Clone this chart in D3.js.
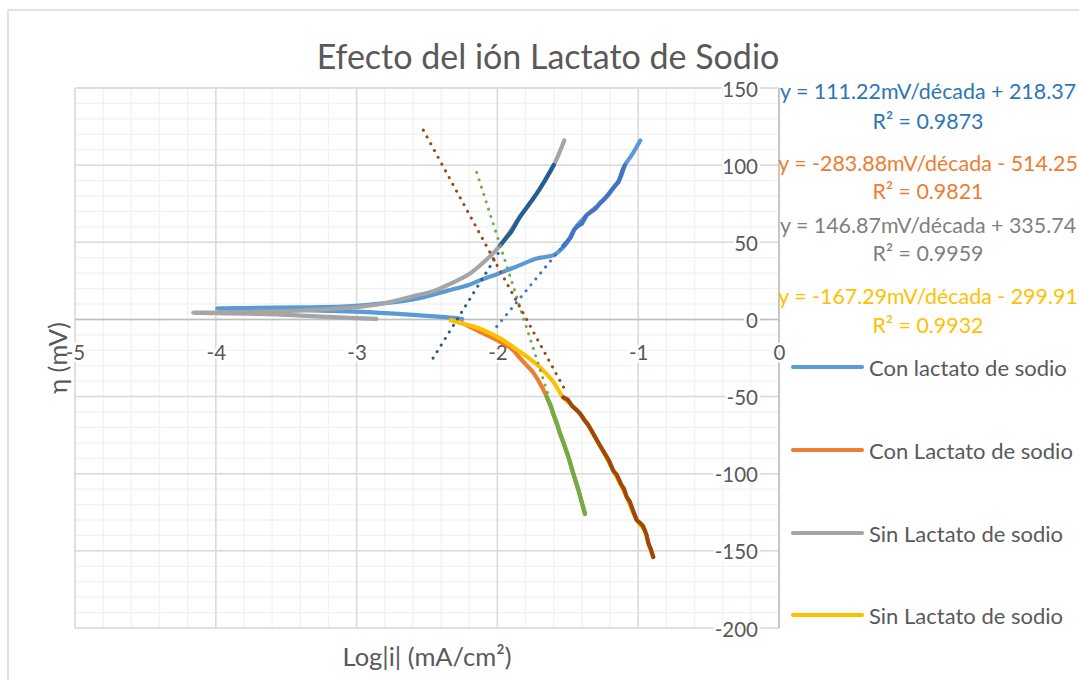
<!DOCTYPE html>
<html>
<head>
<meta charset="utf-8">
<script src="https://cdn.jsdelivr.net/npm/d3@7"></script>
<style>
  html, body { margin: 0; padding: 0; background: #fff; }
  svg text { font-family: Lato, "Open Sans", sans-serif; fill: #595959; }
</style>
</head>
<body>
<svg id="chart" width="1079" height="680"></svg>
<script>
// Axis ticks
const xTicks = [-5, -4, -3, -2, -1, 0];
const yTicks = [150, 100, 50, 0, -50, -100, -150, -200];

// Polarization curves: [log|i| (mA/cm²), η (mV)]
const conLactato = [
  [-2.25, 0.3], [-2.40, 1.6], [-2.60, 3.0], [-2.83, 4.3], [-3.00, 5.0], [-3.40, 6.0],
  [-3.80, 6.7], [-3.99, 7.1], [-3.80, 7.4], [-3.40, 7.8], [-3.10, 8.3], [-2.90, 9.6],
  [-2.60, 13.0], [-2.36, 18.5], [-2.20, 22.5], [-2.12, 25.5], [-1.99, 29.8], [-1.84, 35.2],
  [-1.72, 39.5], [-1.65, 40.6], [-1.60, 41.7], [-1.54, 46.0], [-1.508, 49.3], [-1.449, 59.0],
  [-1.366, 67.6], [-1.271, 75.2], [-1.188, 83.8], [-1.129, 91.4], [-1.094, 100.0],
  [-1.046, 106.5], [-0.985, 116.0]
];
const conLactatoCat = [
  [-2.33, -0.5], [-2.25, -2.5], [-2.124, -8.0], [-1.98, -14.5], [-1.90, -19.0],
  [-1.84, -25.0], [-1.80, -29.0], [-1.745, -34.5], [-1.70, -41.0], [-1.65, -50.0],
  [-1.60, -62.0], [-1.555, -74.0], [-1.50, -88.0], [-1.461, -100.0], [-1.42, -112.0],
  [-1.378, -126.0]
];
const sinLactato = [
  [-2.86, 0.4], [-3.20, 1.6], [-3.45, 2.8], [-3.80, 3.7], [-4.16, 4.3], [-3.90, 4.6],
  [-3.69, 5.0], [-3.21, 6.6], [-2.86, 9.5], [-2.60, 15.0], [-2.45, 18.5], [-2.36, 22.0],
  [-2.20, 29.5], [-2.08, 38.5], [-1.98, 48.0], [-1.84, 66.5], [-1.72, 81.7], [-1.60, 100.0],
  [-1.525, 116.0]
];
const sinLactatoCat = [
  [-2.33, -0.5], [-2.25, -2.5], [-2.124, -6.0], [-1.98, -12.3], [-1.84, -21.0],
  [-1.75, -27.0], [-1.697, -31.0], [-1.65, -35.5], [-1.603, -40.4], [-1.532, -50.5],
  [-1.413, -61.0], [-1.295, -78.0], [-1.177, -98.0], [-1.082, -115.0], [-1.011, -130.0],
  [-0.952, -137.0], [-0.928, -145.0], [-0.893, -154.0]
];

// Tafel regions used for the fits
const tafelConAnod = [
  [-1.534, 47.5], [-1.51, 50.0], [-1.48, 53.0], [-1.455, 58.0], [-1.43, 60.5], [-1.40, 62.0],
  [-1.366, 67.6], [-1.33, 70.0], [-1.30, 72.0], [-1.271, 75.5], [-1.24, 78.0], [-1.21, 81.0],
  [-1.188, 84.0], [-1.16, 87.0], [-1.14, 89.0], [-1.125, 93.0], [-1.11, 97.0], [-1.094, 100.0]
];
const tafelConCat = [
  [-1.65, -50.0], [-1.62, -56.0], [-1.60, -62.0], [-1.575, -68.0], [-1.555, -74.0],
  [-1.53, -80.0], [-1.50, -88.0], [-1.48, -94.0], [-1.461, -100.0], [-1.44, -106.0],
  [-1.42, -112.0], [-1.40, -119.0], [-1.378, -126.0]
];
const tafelSinAnod = [
  [-1.98, 48.0], [-1.94, 52.5], [-1.90, 57.0], [-1.84, 66.5], [-1.78, 74.0],
  [-1.72, 81.7], [-1.66, 90.5], [-1.60, 100.0]
];
const tafelSinCat = [
  [-1.532, -50.5], [-1.50, -52.0], [-1.47, -56.0], [-1.44, -58.5], [-1.413, -61.0],
  [-1.38, -65.5], [-1.35, -69.0], [-1.32, -74.0], [-1.295, -78.0], [-1.27, -82.0],
  [-1.24, -86.5], [-1.21, -91.0], [-1.177, -98.0], [-1.15, -101.0], [-1.12, -107.0],
  [-1.10, -110.0], [-1.082, -115.0], [-1.06, -118.0], [-1.04, -123.0], [-1.011, -130.0],
  [-0.985, -132.0], [-0.965, -134.0], [-0.952, -137.0], [-0.94, -140.0], [-0.928, -145.0],
  [-0.91, -149.0], [-0.893, -154.0]
];

// Linear fits η = m·log|i| + b and the span each one is drawn over
const fitSlopes = [111.22, -283.88, 146.87, -167.29];
const fitIntercepts = [218.37, -514.25, 335.74, -299.91];
const fitFrom = [-2.005, -2.147, -2.457, -2.526];
const fitTo = [-1.55, -1.64, -1.98, -1.52];
const fitR2 = ["0.9873", "0.9821", "0.9959", "0.9932"];

const legendNames = ["Con lactato de sodio", "Con Lactato de sodio", "Sin Lactato de sodio", "Sin Lactato de sodio"];

const seriesColors = ["#5B9BD5", "#ED7D31", "#A5A5A5", "#FFC000"];
const tafelColors = ["#4472C4", "#70AD47", "#255E91", "#9E480E"];
const fitLabelColors = ["#2E75B6", "#ED7D31", "#7F7F7F", "#FFC000"];

const svg = d3.select("#chart");
svg.append("rect").attr("width", 1079).attr("height", 680).attr("fill", "#fff");
svg.append("rect").attr("x", 8).attr("y", 10).attr("width", 1200).attr("height", 800)
  .attr("fill", "none").attr("stroke", "#d9d9d9").attr("stroke-width", 1.5);

const x = d3.scaleLinear().domain([-5, 0]).range([75, 779]);
const y = d3.scaleLinear().domain([-200, 150]).range([628, 88]);

// Gridlines
const grid = svg.append("g");
grid.selectAll(".vminor").data(d3.range(-5, 0.001, 0.2)).join("line")
  .attr("x1", d => x(d)).attr("x2", d => x(d)).attr("y1", y(150)).attr("y2", y(-200))
  .attr("stroke", "#f2f2f2").attr("stroke-width", 1.3);
grid.selectAll(".hminor").data(d3.range(-200, 150.001, 10)).join("line")
  .attr("x1", x(-5)).attr("x2", x(0)).attr("y1", d => y(d)).attr("y2", d => y(d))
  .attr("stroke", "#f2f2f2").attr("stroke-width", 1.3);
grid.selectAll(".vmajor").data(xTicks).join("line")
  .attr("x1", d => x(d)).attr("x2", d => x(d)).attr("y1", y(150)).attr("y2", y(-200))
  .attr("stroke", "#d9d9d9").attr("stroke-width", 1.5);
grid.selectAll(".hmajor").data(yTicks).join("line")
  .attr("x1", x(-5)).attr("x2", x(0)).attr("y1", d => y(d)).attr("y2", d => y(d))
  .attr("stroke", "#d9d9d9").attr("stroke-width", 1.5);

// Axis lines crossing at the origin
svg.append("line").attr("x1", x(-5)).attr("x2", x(0)).attr("y1", y(0)).attr("y2", y(0))
  .attr("stroke", "#bfbfbf").attr("stroke-width", 1.5);
svg.append("line").attr("x1", x(0)).attr("x2", x(0)).attr("y1", y(150)).attr("y2", y(-200))
  .attr("stroke", "#bfbfbf").attr("stroke-width", 1.5);

// Tick labels
const xAxis = svg.append("g").attr("transform", `translate(0,${y(0)})`)
  .call(d3.axisBottom(x).tickValues(xTicks).tickSize(0).tickFormat(d => String(d)));
xAxis.select(".domain").remove();
xAxis.selectAll("text").attr("y", 33).attr("dy", null).attr("dominant-baseline", "central")
  .attr("font-size", 20.5).attr("font-family", null)
  .attr("stroke", "#fff").attr("stroke-width", 5).attr("paint-order", "stroke");

const yAxis = svg.append("g").attr("transform", `translate(${x(0)},0)`)
  .call(d3.axisLeft(y).tickValues(yTicks).tickSize(0).tickFormat(d => String(d)));
yAxis.select(".domain").remove();
yAxis.selectAll("text").attr("x", -21).attr("dy", null).attr("dominant-baseline", "central")
  .attr("font-size", 20.5).attr("font-family", null)
  .attr("stroke", "#fff").attr("stroke-width", 5).attr("paint-order", "stroke");

// Curves
const smooth = d3.line().x(d => x(d[0])).y(d => y(d[1])).curve(d3.curveCatmullRom.alpha(0.5));
const rough = d3.line().x(d => x(d[0])).y(d => y(d[1]));
const main = [conLactato, conLactatoCat, sinLactato, sinLactatoCat];
const tafel = [tafelConAnod, tafelConCat, tafelSinAnod, tafelSinCat];

main.forEach((s, i) => {
  svg.append("path").attr("d", smooth(s)).attr("fill", "none")
    .attr("stroke", seriesColors[i]).attr("stroke-width", 4.2)
    .attr("stroke-linecap", "round").attr("stroke-linejoin", "round");
});
tafel.forEach((s, i) => {
  svg.append("path").attr("d", i === 2 ? smooth(s) : rough(s)).attr("fill", "none")
    .attr("stroke", tafelColors[i]).attr("stroke-width", 4.2)
    .attr("stroke-linecap", "round").attr("stroke-linejoin", "round");
});

// Fitted Tafel lines (dotted)
fitSlopes.forEach((m, i) => {
  const b = fitIntercepts[i];
  const pts = [[fitFrom[i], m * fitFrom[i] + b], [fitTo[i], m * fitTo[i] + b]];
  svg.append("path").attr("d", rough(pts)).attr("fill", "none")
    .attr("stroke", tafelColors[i]).attr("stroke-width", 3)
    .attr("stroke-linecap", "round").attr("stroke-dasharray", "0.1 7.6");
});

// Fit equations
const eqCenter = 928;
const eqRows = [[91, 121], [163, 191], [225, 253], [296, 325]];
fitSlopes.forEach((m, i) => {
  const b = fitIntercepts[i];
  const sign = b < 0 ? "-" : "+";
  const g = svg.append("g").attr("font-size", 21.4).attr("text-anchor", "middle");
  g.append("text").attr("x", eqCenter).attr("y", eqRows[i][0]).attr("dominant-baseline", "central")
    .style("fill", fitLabelColors[i])
    .text(`y = ${m.toFixed(2)}mV/década ${sign} ${Math.abs(b).toFixed(2)}`);
  g.append("text").attr("x", eqCenter).attr("y", eqRows[i][1]).attr("dominant-baseline", "central")
    .style("fill", fitLabelColors[i])
    .text(`R² = ${fitR2[i]}`);
});

// Legend
const legendRows = [367, 450, 533, 615];
legendNames.forEach((name, i) => {
  svg.append("line").attr("x1", 793).attr("x2", 862).attr("y1", legendRows[i]).attr("y2", legendRows[i])
    .attr("stroke", seriesColors[i]).attr("stroke-width", 4.2).attr("stroke-linecap", "round");
  svg.append("text").attr("x", 869).attr("y", legendRows[i]).attr("dominant-baseline", "central")
    .attr("font-size", 22).text(name);
});

// Titles
svg.append("text").attr("x", 548).attr("y", 55).attr("text-anchor", "middle")
  .attr("dominant-baseline", "central").attr("font-size", 34).text("Efecto del ión Lactato de Sodio");
svg.append("text").attr("x", 427).attr("y", 656).attr("text-anchor", "middle")
  .attr("dominant-baseline", "central").attr("font-size", 25.5).text("Log|i| (mA/cm²)");
svg.append("text").attr("transform", "translate(57,358) rotate(-90)").attr("text-anchor", "middle")
  .attr("dominant-baseline", "central").attr("font-size", 25.5).text("η (mV)");
</script>
</body>
</html>
